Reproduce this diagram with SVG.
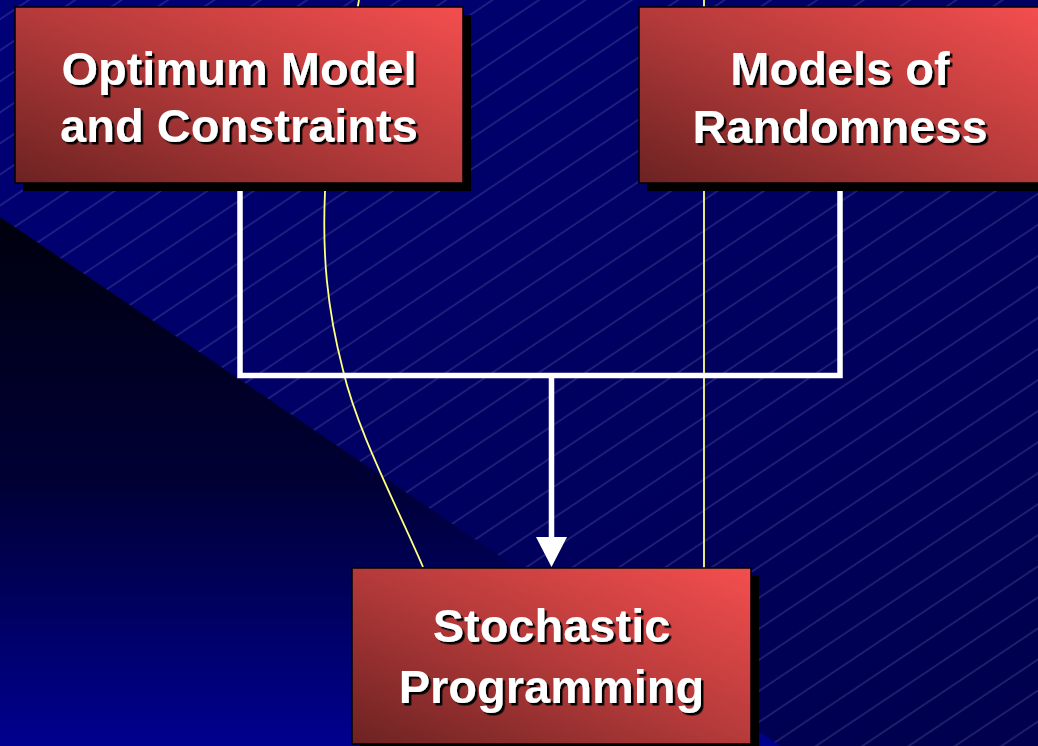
<svg xmlns="http://www.w3.org/2000/svg" width="1038" height="746" viewBox="0 0 1038 746">
  <defs>
    <linearGradient id="bg" x1="0" y1="0" x2="1" y2="1">
      <stop offset="0" stop-color="#000078"/>
      <stop offset="1" stop-color="#00004e"/>
    </linearGradient>
    <linearGradient id="dark" x1="0" y1="217" x2="0" y2="746" gradientUnits="userSpaceOnUse">
      <stop offset="0" stop-color="#00000e"/>
      <stop offset="0.5" stop-color="#000036"/>
      <stop offset="1" stop-color="#000090"/>
    </linearGradient>
    <linearGradient id="red" x1="0" y1="1" x2="1" y2="0">
      <stop offset="0" stop-color="#6c2222"/>
      <stop offset="0.5" stop-color="#b53a3a"/>
      <stop offset="1" stop-color="#f44e4e"/>
    </linearGradient>
    <pattern id="hatch" patternUnits="userSpaceOnUse" width="200" height="25.8" patternTransform="rotate(-33.8)">
      <line x1="0" y1="16" x2="200" y2="16" stroke="#9a9ad0" stroke-width="0.9" stroke-opacity="0.42"/>
    </pattern>
    <filter id="ts" x="-10%" y="-20%" width="120%" height="140%">
      <feDropShadow dx="2.5" dy="2.5" stdDeviation="0.4" flood-color="#000000" flood-opacity="1"/>
    </filter>
  </defs>
  <style>
    .box { fill: url(#red); stroke: #000; stroke-width: 1.5; }
    .shadow { fill: #000; }
    .label { font-family: "Liberation Sans", Arial, sans-serif; font-weight: bold; font-size: 47px; fill: #ffffff; text-anchor: middle; filter: url(#ts); }
    .conn { fill: none; stroke: #ffffff; stroke-width: 5.5; }
    .yel { fill: none; stroke: #ffff80; stroke-width: 1.8; }
  </style>

  <!-- background -->
  <rect x="0" y="0" width="1038" height="746" fill="url(#bg)"/>
  <rect x="0" y="0" width="1038" height="746" fill="url(#hatch)"/>
  <polygon points="0,217 780,746 0,746" fill="url(#dark)"/>

  <!-- yellow curves -->
  <g id="curves">
    <path class="yel" d="M359,0 C347.7,64 327.7,130.3 325,192 C322.3,253.7 326.7,307.5 343,370 C357,430 394,500 423,567"/>
    <line class="yel" x1="704" y1="0" x2="704" y2="568"/>
  </g>

  <!-- connectors -->
  <g id="connectors">
    <polyline class="conn" points="240,183 240,375.5 840,375.5 840,183"/>
    <line class="conn" x1="551.5" y1="375.5" x2="551.5" y2="540"/>
    <polygon points="536,537 567,537 551.5,567" fill="#ffffff"/>
  </g>

  <!-- nodes -->
  <g id="node-optimum">
    <rect class="shadow" x="23" y="15" width="448" height="176"/>
    <rect class="box" x="15" y="7" width="448" height="176"/>
    <text class="label" x="239" y="85">Optimum Model</text>
    <text class="label" x="239" y="142">and Constraints</text>
  </g>
  <g id="node-randomness">
    <rect class="shadow" x="647" y="15" width="402" height="176"/>
    <rect class="box" x="639" y="7" width="402" height="176"/>
    <text class="label" x="840" y="85">Models of</text>
    <text class="label" x="840" y="143">Randomness</text>
  </g>
  <g id="node-stochastic">
    <rect class="shadow" x="360" y="576" width="399" height="176"/>
    <rect class="box" x="352" y="568" width="399" height="176"/>
    <text class="label" x="551.5" y="642">Stochastic</text>
    <text class="label" x="551.5" y="703">Programming</text>
  </g>
</svg>
